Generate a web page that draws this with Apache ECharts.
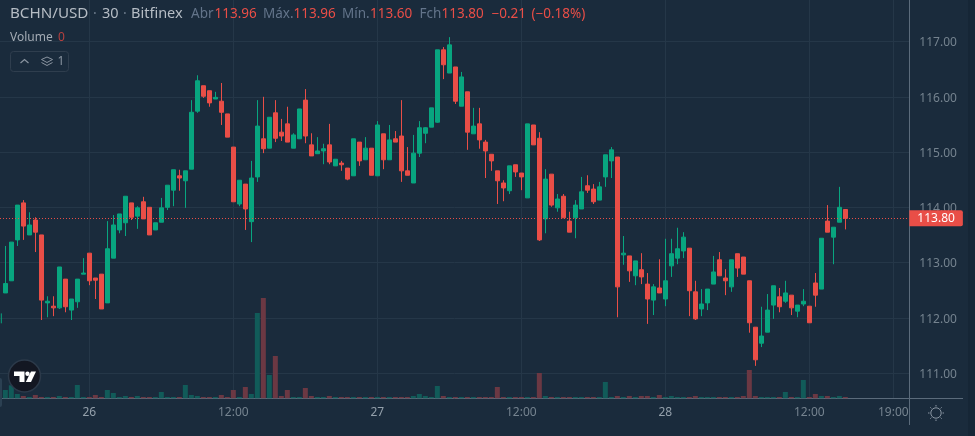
<!DOCTYPE html>
<html>
<head>
<meta charset="utf-8">
<style>html,body{margin:0;padding:0;background:#1a2b3c;}#c{width:975px;height:436px;}</style>
<script src="https://cdn.jsdelivr.net/npm/echarts@6/dist/echarts.min.js"></script>
</head>
<body>
<div id="c"></div>
<script>
const opens = [112.45,112.67,113.41,114.08,113.50,113.77,113.50,112.27,112.21,112.18,112.70,112.14,112.29,112.79,113.17,112.72,112.79,112.27,113.08,113.59,113.72,114.08,113.84,114.10,114.00,113.59,113.73,114.00,114.31,114.57,114.48,114.69,115.74,116.20,116.11,115.96,115.92,115.69,115.09,114.06,114.42,113.74,114.55,115.24,115.07,115.71,115.36,115.51,115.07,115.24,115.94,115.13,114.97,115.02,115.13,114.75,114.80,114.71,114.57,115.18,114.86,115.07,114.57,115.33,114.86,115.24,115.29,114.66,114.44,114.98,115.34,115.45,115.54,116.85,116.43,116.54,115.83,116.09,115.33,115.51,115.18,114.96,114.66,114.44,114.30,114.77,114.62,114.17,115.49,115.25,113.79,114.60,113.99,114.20,113.75,113.81,113.97,114.39,114.33,114.13,114.55,114.84,114.91,113.14,113.12,112.76,112.87,112.61,112.32,112.54,112.34,112.94,113.08,113.21,113.26,112.47,112.16,112.27,112.61,113.05,112.72,112.56,113.16,113.10,112.67,111.83,111.54,111.74,112.23,112.38,112.30,112.41,112.12,112.25,112.21,112.63,112.52,113.75,113.46,113.73,113.96];
const closes = [112.62,113.37,114.04,113.66,113.68,113.55,112.32,112.30,112.18,112.92,112.20,112.34,112.70,112.81,112.67,112.68,112.16,113.25,113.68,113.88,114.20,113.82,113.99,113.79,113.50,113.72,113.99,114.40,114.68,114.53,114.66,115.72,116.29,116.01,115.89,115.99,115.72,115.27,114.10,114.49,113.97,114.53,115.47,115.06,115.63,115.25,115.29,115.18,115.31,115.78,115.29,114.93,115.02,115.06,114.82,114.87,114.77,114.51,115.24,114.84,115.07,114.58,115.49,114.86,115.22,115.18,114.66,114.58,114.98,115.44,115.44,115.80,116.85,116.58,116.94,115.92,116.36,115.36,115.47,115.22,115.02,114.84,114.48,114.35,114.75,114.64,114.55,115.51,115.13,113.41,114.51,114.04,114.15,113.81,113.55,114.04,114.28,114.31,114.10,114.37,114.95,115.04,112.56,113.17,112.85,113.03,112.74,112.34,112.56,112.45,112.67,113.16,113.25,113.46,112.49,111.98,112.25,112.52,112.83,112.76,112.67,113.05,112.90,112.79,111.91,111.24,111.67,112.14,112.58,112.20,112.45,112.18,112.23,112.30,111.91,112.41,113.44,113.55,113.64,114.00,113.80];
const lows = [112.45,112.67,113.30,113.41,113.50,113.19,111.96,112.01,112.03,112.16,112.10,111.96,112.18,112.79,112.59,112.34,112.16,112.27,113.08,113.53,113.48,113.77,113.61,113.79,113.50,113.59,113.73,113.95,114.02,114.30,113.99,114.69,115.71,115.98,115.82,115.96,115.49,115.27,114.10,114.02,113.59,113.37,114.46,114.98,115.07,115.18,115.20,115.18,115.07,115.24,115.16,114.93,114.97,114.78,114.78,114.75,114.66,114.49,114.57,114.75,114.86,114.58,114.57,114.69,114.86,115.18,114.46,114.58,114.44,114.91,115.16,115.45,115.53,116.32,116.43,115.87,115.83,115.04,115.33,115.06,114.53,114.66,114.06,114.11,114.24,114.55,114.31,114.17,115.13,113.39,113.53,114.01,113.92,113.81,113.55,113.44,113.97,114.26,114.06,114.13,114.37,114.53,112.01,112.96,112.65,112.59,112.61,111.89,112.05,112.45,112.21,112.74,112.97,113.08,112.03,111.96,112.03,112.14,112.61,112.76,112.41,112.47,112.74,112.79,111.73,111.13,111.47,111.74,111.98,112.10,112.27,112.05,112.01,112.21,111.91,112.20,112.52,113.55,112.97,113.73,113.60];
const highs = [113.30,113.37,114.04,114.13,113.91,113.82,113.50,112.39,112.39,112.92,112.70,112.34,112.70,113.08,113.17,112.72,112.79,113.75,113.86,113.88,114.20,114.08,114.02,114.19,114.00,113.72,114.17,114.40,114.68,114.68,114.66,115.94,116.39,116.20,116.11,116.09,116.25,115.69,115.09,114.49,114.42,114.84,115.94,116.00,115.63,115.94,115.60,115.82,115.34,115.78,116.14,115.34,115.27,115.15,115.51,114.87,114.84,114.71,115.24,115.18,115.27,115.07,115.56,115.33,115.49,115.38,115.94,115.09,115.31,115.56,115.45,115.80,116.85,116.90,117.08,116.54,116.45,116.09,115.80,115.80,115.22,114.96,114.66,114.49,114.75,114.77,114.62,115.51,115.49,115.36,114.69,114.60,114.24,114.24,113.92,114.13,114.55,114.58,114.42,114.46,114.95,115.09,114.91,113.48,113.12,113.03,113.17,112.81,112.61,113.06,113.43,113.43,113.63,113.55,113.26,112.67,112.52,112.52,113.12,113.19,112.88,113.05,113.16,113.10,112.67,111.83,112.20,112.43,112.58,112.54,112.67,112.41,112.23,112.52,112.21,112.81,113.44,114.04,113.64,114.37,113.96];
const volumes = [8.3,13,4.3,2.3,1.3,3.3,1.3,1.3,1.3,2.3,1.3,1.3,13.3,1.3,1.3,3.3,1.3,8.3,5.3,1.3,2.3,1.3,2.3,1.3,1.3,1.3,6.3,1.3,1.3,1.3,13.3,3.3,2.3,1.3,1.3,1.3,3.3,1.3,8.3,1.3,11.3,4.3,85.3,100.3,23.3,42.3,2.3,8.3,1.3,1.3,10.3,2.3,1.3,1.3,2.3,1.3,1.3,1.3,1.3,1.3,1.3,1.3,1.3,1.3,1.3,1.3,1.3,1.3,2.3,4.3,2.3,1.3,12.3,2.3,1.3,1.3,1.3,1.3,1.3,1.3,1.3,1.3,11.3,1.3,1.3,1.3,1.3,1.3,1.3,25.3,2.3,1.3,1.3,1.3,1.3,1.3,1.3,1.3,1.3,1.3,16.3,1.3,2.3,1.3,2.3,1.3,2.3,2.3,1.3,3.3,1.3,2.3,1.3,1.3,1.3,2.3,1.3,1.3,1.3,1.3,1.3,1.3,1.3,2.3,28.3,2.3,1.3,1.3,1.3,1.3,6.3,1.3,1.3,18.3,1.3,4.3,2.3,2.3,1.3,2.3,1.3];
const leadIndex = -0.67;
const leadWick = [111.90, 112.08];
const priceTicks = [111,112,113,114,115,116,117];
const timeTickIndex = [14,38,62,86,110,134,148];
const timeTickLabels = ['26','12:00','27','12:00','28','12:00','19:00'];
const lastPrice = 113.80;
const ohlc = [['Abr',191,'113.96',214.5],['Máx.',263,'113.96',293.5],['Mín.',342,'113.60',370],['Fch',419.5,'113.80',441.5]];

const UP='#08a57f', DOWN='#e94e47', UPV='#115b59', DOWNV='#6b3843';
const GRID='#253748', AXIS='#5b6b7b', FONT='"Noto Sans",sans-serif';
const chart = echarts.init(document.getElementById('c'), null, {renderer:'canvas'});
const candleData = opens.map((o,i)=>[i,o,closes[i],lows[i],highs[i]]);
const volData = volumes.map((v,i)=>({value:[i,v],itemStyle:{color:closes[i]>=opens[i]?UPV:DOWNV}}));
const txt=(x,y,t,fill,size,extra)=>({type:'text',x,y,silent:true,z:50,style:Object.assign({text:t,fill,font:`${size}px ${FONT}`,textVerticalAlign:'middle'},extra||{})});
const graphics=[
 {type:'rect',x:968,y:0,shape:{width:7,height:436},style:{fill:'#162636'},silent:true,z:1},
 {type:'line',shape:{x1:909.5,y1:398.5,x2:963,y2:398.5},style:{stroke:AXIS,lineWidth:1},silent:true},
 {type:'line',shape:{x1:909.5,y1:398.5,x2:909.5,y2:425},style:{stroke:AXIS,lineWidth:1},silent:true},
 {type:'rect',shape:{x:-4,y:378,width:6,height:29,r:2},style:{fill:'#2b4052'},silent:true,z:50},
 txt(10,14,'BCHN/USD','#b6bdc5',15.2),
 txt(93,14,'·','#6b7a8a',14),
 txt(102,14,'30','#b6bdc5',14.5),
 txt(123,14,'·','#6b7a8a',14),
 txt(131,14,'Bitfinex','#b6bdc5',14.5),
 txt(491.5,14,'−0.21','#e94e47',13.5),
 txt(531.5,14,'(−0.18%)','#e94e47',13.5),
 txt(10,38,'Volume','#a3abb4',12),
 txt(58,38,'0','#b8403f',12),
 {type:'rect',shape:{x:10.5,y:51.5,width:58,height:20,r:3},style:{fill:'none',stroke:'#2f3e4e',lineWidth:1},silent:true,z:50},
 {type:'polyline',shape:{points:[[20.5,63],[24.5,59.5],[28.5,63]]},style:{fill:'none',stroke:'#8a94a0',lineWidth:1.2},silent:true,z:50},
 {type:'polygon',shape:{points:[[41.5,59.5],[47,57],[52.5,59.5],[47,62.5]]},style:{fill:'none',stroke:'#8a94a0',lineWidth:1},silent:true,z:50},
 {type:'polyline',shape:{points:[[41.5,62.5],[47,65.5],[52.5,62.5]]},style:{fill:'none',stroke:'#8a94a0',lineWidth:1},silent:true,z:50},
 txt(57.5,62,'1','#8a94a0',12),
 {type:'circle',shape:{cx:24.5,cy:376,r:16},style:{fill:'#131722',stroke:'#2c3a4a',lineWidth:1.5},silent:true,z:60},
 {type:'polygon',shape:{points:[[14,371.5],[24.5,371.5],[24.5,382],[19.5,382],[19.5,376],[14,376]]},style:{fill:'#fff'},silent:true,z:61},
 {type:'circle',shape:{cx:27.5,cy:373.7,r:2.2},style:{fill:'#fff'},silent:true,z:61},
 {type:'polygon',shape:{points:[[31,371.5],[36,371.5],[31,382],[25.8,382]]},style:{fill:'#fff'},silent:true,z:61},
 {type:'circle',shape:{cx:936,cy:413,r:5.2},style:{fill:'none',stroke:'#8a96a3',lineWidth:1},silent:true,z:50}
];
ohlc.forEach(r=>{graphics.push(txt(r[1],14,r[0],'#63748a',13.5));graphics.push(txt(r[3],14,r[2],'#e94e47',13.5));});
for(let a=0;a<8;a++){const t=a*Math.PI/4;graphics.push({type:'line',shape:{x1:936+Math.cos(t)*6.5,y1:413+Math.sin(t)*6.5,x2:936+Math.cos(t)*8,y2:413+Math.sin(t)*8},style:{stroke:'#8a96a3',lineWidth:1},silent:true,z:50});}

chart.setOption({
 animation:false,
 backgroundColor:'#1a2b3c',
 textStyle:{fontFamily:FONT},
 grid:{left:0,top:0,width:909.33,height:398.3,containLabel:false},
 xAxis:{type:'value',min:-0.888,max:150.667,
  axisLine:{show:true,onZero:false,lineStyle:{color:AXIS,width:1}},
  axisTick:{show:false,customValues:timeTickIndex},
  splitLine:{show:true,lineStyle:{color:GRID,width:1}},
  axisLabel:{show:true,customValues:timeTickIndex,margin:8,fontSize:12,fontFamily:FONT,color:'#75838f',hideOverlap:false,
   formatter:v=>{const s=timeTickLabels[timeTickIndex.indexOf(v)];return s.length===2?'{d|'+s+'}':s;},
   rich:{d:{fontSize:12,color:'#94a0ab',fontFamily:FONT}}}
 },
 yAxis:[
  {type:'value',position:'right',min:110.543,max:117.752,scale:true,
   axisLine:{show:true,onZero:false,lineStyle:{color:AXIS,width:1}},
   axisTick:{show:false,customValues:priceTicks},
   splitLine:{show:true,lineStyle:{color:GRID,width:1}},
   axisLabel:{show:true,customValues:priceTicks,margin:10,fontSize:12,fontFamily:FONT,color:'#75838f',
    formatter:v=>'{p|'+v.toFixed(2)+'}',
    rich:{p:{fontSize:12,fontFamily:FONT,color:'#75838f',padding:[3,0,0,0]}}}},
  {type:'value',min:0,max:398.3,show:false}
 ],
 graphic:graphics,
 series:[
  {type:'bar',yAxisIndex:1,data:volData,barWidth:5,z:1,silent:true,clip:true},
  {type:'line',data:leadWick.map(v=>[leadIndex,v]),symbol:'none',lineStyle:{color:UP,width:1},z:2,silent:true},
  {type:'candlestick',data:candleData,barWidth:5,z:3,silent:true,
   itemStyle:{color:UP,color0:DOWN,borderColor:UP,borderColor0:DOWN,borderWidth:1},
   markLine:{silent:true,symbol:'none',z:4,animation:false,
    lineStyle:{color:DOWN,type:[1,2],width:1,opacity:1},
    data:[{yAxis:lastPrice}],
    label:{show:true,position:'end',distance:0,formatter:p=>p.value.toFixed(2),color:'#fff',fontSize:12,fontFamily:FONT,backgroundColor:DOWN,padding:[2,8,2,8],borderRadius:[0,2,2,0]}}}
 ]
});
</script>
</body>
</html>
